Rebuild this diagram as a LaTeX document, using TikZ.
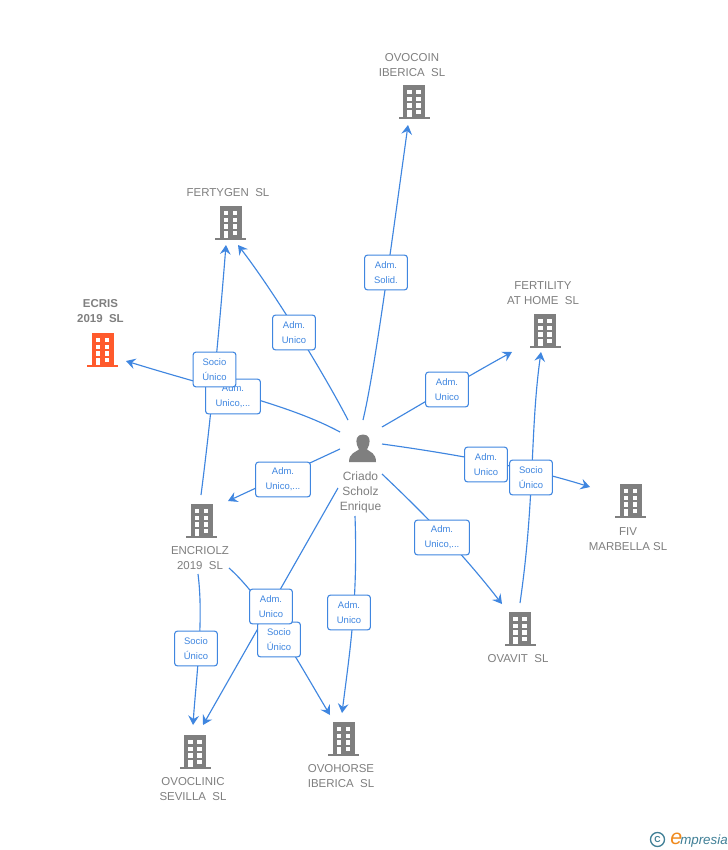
\documentclass[tikz,border=0pt]{standalone}
\usepackage{fontspec}
\setmainfont{Liberation Sans}
\usetikzlibrary{arrows.meta}
\definecolor{lnk}{HTML}{3F86E0}
\definecolor{gry}{HTML}{7F7F7F}
\definecolor{org}{HTML}{FF5A2C}
\definecolor{logot}{HTML}{3F7F96}
\definecolor{logoo}{HTML}{F08A1D}
\pgfdeclarelayer{bg}\pgfsetlayers{bg,main}
\newcommand{\bld}[3]{%
  \begin{scope}[shift={(#1,-#2)}]
    \fill[#3] (-11,-17) rectangle (11,17);
    \fill[#3] (-15.5,-17) rectangle (15.5,-15);
    \foreach \cy in {7.7,1,-5.7}{
      \foreach \cx in {-6.7,2.3}{ \fill[white] (\cx,\cy) rectangle ++(4.5,4.4); }
    }
    \fill[white] (-6.7,-15) rectangle (-2.2,-8);
    \fill[white] (2.3,-12.4) rectangle (6.8,-8);
  \end{scope}}
\tikzset{
  x=0.75pt,y=0.75pt,
  lbl/.style={draw=lnk,line width=0.8pt,rounded corners=2pt,fill=white,text=lnk,font=\fontsize{7.1}{11.2}\selectfont,align=center,minimum width=32pt,minimum height=26pt,inner sep=0pt},
  co/.style={text=gry,font=\fontsize{8.6}{11.2}\selectfont,align=center,inner sep=0pt},
  pers/.style={text=gry,font=\fontsize{9}{11.4}\selectfont,align=center,inner sep=0pt},
  conn/.style={draw=lnk,line width=0.85pt},
  tip/.style={conn,-{Stealth[length=7pt,width=8pt,inset=2.5pt]}}
}
\begin{document}
\begin{tikzpicture}
\useasboundingbox (0,0) rectangle (728,-850);
% free connector ends
\coordinate (pE) at (348,-420);
\coordinate (pF) at (363,-420);
\coordinate (pG) at (382,-427);
\coordinate (pH) at (382,-444);
\coordinate (pI) at (382,-474);
\coordinate (pJ) at (340,-432);
\coordinate (pK) at (340,-449);
\coordinate (pL) at (338,-488);
\coordinate (pM) at (355,-516);
\coordinate (tOvocoin) at (408,-125);
\coordinate (tFerty) at (238,-245);
\coordinate (tFerty2) at (226,-245);
\coordinate (tEcris) at (126,-361);
\coordinate (tHome) at (512,-352);
\coordinate (tHome2) at (541,-352);
\coordinate (tFiv) at (590,-487);
\coordinate (tEnc) at (228,-501);
\coordinate (sEnc) at (201,-495);
\coordinate (sEnc2) at (198,-574);
\coordinate (sEnc3) at (229,-568);
\coordinate (tClin) at (193,-725);
\coordinate (tClin2) at (203,-725);
\coordinate (tHorse) at (330,-715);
\coordinate (tHorse2) at (342,-713);
\coordinate (tOva) at (502,-604);
\coordinate (sOva) at (520,-603);
% labels
\node[lbl] (l1) at (386,-272.5) {Adm.\\Solid.};
\node[lbl] (l2) at (294,-332.5) {Adm.\\Unico};
\node[lbl,minimum width=41pt] (l3) at (233,-396.5) {Adm.\\Unico,...};
\node[lbl] (l4) at (214.5,-369.5) {Socio\\Único};
\node[lbl] (l5) at (447,-389.5) {Adm.\\Unico};
\node[lbl] (l6) at (486,-464.5) {Adm.\\Unico};
\node[lbl] (l7) at (531,-477.5) {Socio\\Único};
\node[lbl,minimum width=41pt] (l8) at (283,-479.5) {Adm.\\Unico,...};
\node[lbl,minimum width=41pt] (l9) at (442,-537.5) {Adm.\\Unico,...};
\node[lbl] (l10) at (349,-612.5) {Adm.\\Unico};
\node[lbl] (l11) at (279,-639.5) {Socio\\Único};
\node[lbl] (l12) at (271,-606.5) {Adm.\\Unico};
\node[lbl] (l13) at (196,-648.5) {Socio\\Único};
% connectors (behind the labels)
\begin{pgfonlayer}{bg}
\fill[white] (0,0) rectangle (728,-850);
\draw[tip] (pF) .. controls (375,-370) and (392,-240) .. (tOvocoin);
\draw[tip] (pE) .. controls (330,-385) and (280,-300) .. (tFerty);
\draw[tip] (sEnc) .. controls (212,-410) and (220,-320) .. (tFerty2);
\draw[tip] (pJ) .. controls (290,-405) and (220,-390) .. (tEcris);
\draw[tip] (pG) .. controls (420,-405) and (470,-375) .. (tHome);
\draw[tip] (sOva) .. controls (535,-500) and (530,-430) .. (tHome2);
\draw[tip] (pH) .. controls (440,-452) and (520,-465) .. (tFiv);
\draw[tip] (pK) -- (tEnc);
\draw[tip] (pI) .. controls (420,-510) and (460,-550) .. (tOva);
\draw[tip] (pM) .. controls (358,-600) and (350,-650) .. (tHorse2);
\draw[tip] (pL) -- (tClin2);
\draw[tip] (sEnc3) .. controls (265,-600) and (300,-665) .. (tHorse);
\draw[tip] (sEnc2) .. controls (204,-620) and (196,-680) .. (tClin);
\end{pgfonlayer}
% buildings
\bld{414}{102}{gry}
\bld{230.5}{223}{gry}
\bld{102.5}{350}{org}
\bld{545}{331}{gry}
\bld{630.5}{501}{gry}
\bld{201.5}{521}{gry}
\bld{520}{629}{gry}
\bld{343.5}{739}{gry}
\bld{195}{752}{gry}
% person icon
\node[inner sep=0pt,minimum size=0pt] (person) at (363,-448) {};
\fill[gry] (363,-434.5) .. controls (356.5,-434.5) and (355.5,-440) .. (357,-445) .. controls (357.5,-447) and (358.5,-448) .. (359,-449.5) .. controls (356,-452) and (349,-453) .. (349,-462) -- (376,-462) .. controls (376,-453) and (370,-452) .. (367,-449.5) .. controls (367.5,-448) and (368.5,-447) .. (369,-445) .. controls (370.5,-440) and (369.5,-434.5) .. (363,-434.5) -- cycle;
\node[pers] (n0) at (360.5,-492.3) {Criado\\Scholz\\Enrique};
% company names
\node[co] (n1) at (412,-65.5) {OVOCOIN\\IBERICA\ \ SL};
\node[co] (n2) at (228,-192.8) {FERTYGEN\ \ SL};
\node[co,font=\bfseries\fontsize{8.6}{11.2}\selectfont] (n3) at (100.5,-310.8) {ECRIS\\2019\ \ SL};
\node[co] (n4) at (543,-293.3) {FERTILITY\\AT HOME\ \ SL};
\node[co] (n5) at (628,-539.3) {FIV\\MARBELLA SL};
\node[co] (n6) at (200,-558.3) {ENCRIOLZ\\2019\ \ SL};
\node[co] (n7) at (518,-658.8) {OVAVIT\ \ SL};
\node[co] (n8) at (341,-776) {OVOHORSE\\IBERICA\ \ SL};
\node[co] (n9) at (193,-789) {OVOCLINIC\\SEVILLA\ \ SL};
% logo
\node[circle,draw=logot,line width=1pt,inner sep=0pt,minimum size=10.5pt,text=logot,font=\bfseries\fontsize{6.5}{6.5}\selectfont] (c) at (657.5,-839.5) {C};
\node[inner sep=0pt,anchor=base west,text=logoo,font=\itshape\fontsize{16}{16}\selectfont] (e) at (670,-844.5) {e};
\node[inner sep=0pt,anchor=base west,text=logot,font=\itshape\fontsize{10}{10}\selectfont] (m) at (680,-844) {mpresia};
\end{tikzpicture}
\end{document}
